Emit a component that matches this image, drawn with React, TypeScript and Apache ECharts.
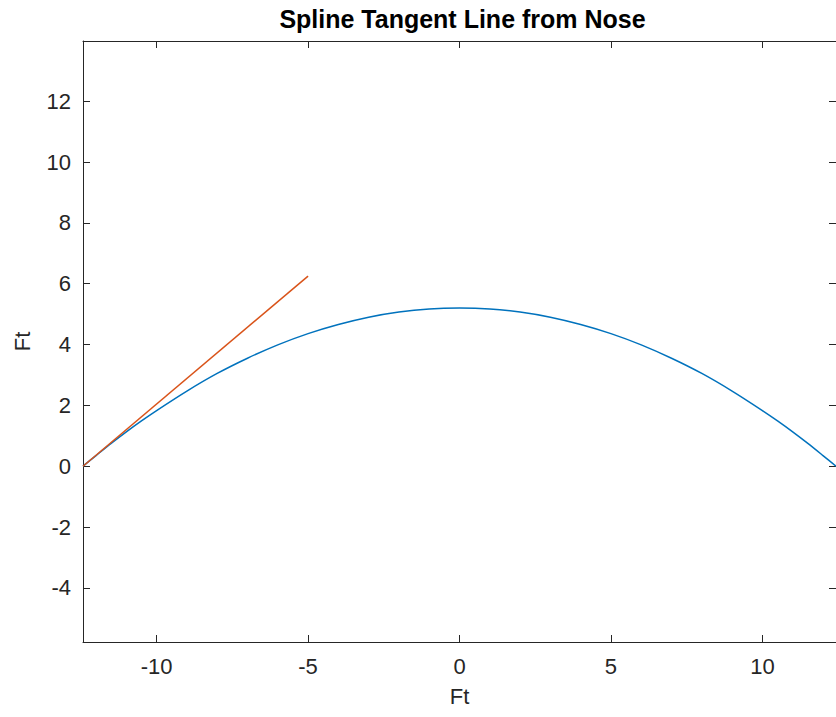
import React, { useEffect, useRef } from "react";
import * as echarts from "echarts";

const curveX = [-12.43, -12, -11.5, -11, -10.5, -10, -9, -8, -7, -6, -5, -4, -3, -2, -1, 0, 1, 2, 3, 4, 5, 6, 7, 8, 9, 10, 10.5, 11, 11.5, 12, 12.43];
const curveY = [0, 0.35, 0.75, 1.13, 1.49, 1.83, 2.47, 3.05, 3.55, 3.99, 4.36, 4.66, 4.9, 5.07, 5.17, 5.2, 5.17, 5.07, 4.9, 4.66, 4.36, 3.99, 3.55, 3.05, 2.47, 1.83, 1.49, 1.13, 0.75, 0.35, 0];
const tangentX = [-12.43, -5];
const tangentY = [0, 6.25];
const xTicks = [-10, -5, 0, 5, 10];
const yTicks = [-4, -2, 0, 2, 4, 6, 8, 10, 12];
const xRange = [-12.43, 12.43];
const yRange = [-5.78, 13.98];
const titleText = "Spline Tangent Line from Nose";
const xName = "Ft";
const yName = "Ft";

const AXIS = "#262626";
const FONT = "Liberation Sans, Arial, Helvetica, sans-serif";

export default function App() {
  const ref = useRef<HTMLDivElement>(null);
  useEffect(() => {
    if (!ref.current) return;
    const chart = echarts.init(ref.current, undefined, { renderer: "svg" });
    const axisLine = { show: true, onZero: false, lineStyle: { color: AXIS, width: 1 } };
    const tick = { show: true, inside: true, length: 7, lineStyle: { color: AXIS, width: 1 } };
    chart.setOption({
      animation: false,
      backgroundColor: "#ffffff",
      textStyle: { fontFamily: FONT },
      grid: { left: 83, top: 41, width: 759, height: 601, containLabel: false },
      graphic: [
        {
          type: "text",
          x: 462.5,
          y: 6,
          style: {
            text: titleText,
            textAlign: "center",
            textVerticalAlign: "top",
            fontFamily: FONT,
            fontSize: 25,
            fontWeight: "bold",
            fill: "#000000",
          },
        },
      ],
      xAxis: [
        {
          type: "value",
          position: "bottom",
          min: xRange[0],
          max: xRange[1],
          name: xName,
          nameLocation: "middle",
          nameGap: 43,
          nameTextStyle: { fontSize: 22, color: AXIS, fontFamily: FONT },
          axisLine,
          axisTick: { ...tick, customValues: xTicks },
          axisLabel: { customValues: xTicks, fontSize: 22, color: AXIS, margin: 13, fontFamily: FONT },
          splitLine: { show: false },
        },
        {
          type: "value",
          position: "top",
          min: xRange[0],
          max: xRange[1],
          axisLine,
          axisTick: { ...tick, customValues: xTicks },
          axisLabel: { show: false },
          splitLine: { show: false },
        },
      ],
      yAxis: [
        {
          type: "value",
          position: "left",
          min: yRange[0],
          max: yRange[1],
          name: yName,
          nameLocation: "middle",
          nameGap: 50,
          nameTextStyle: { fontSize: 22, color: AXIS, fontFamily: FONT },
          axisLine,
          axisTick: { ...tick, customValues: yTicks },
          axisLabel: { customValues: yTicks, fontSize: 22, color: AXIS, margin: 12, fontFamily: FONT },
          splitLine: { show: false },
        },
        {
          type: "value",
          position: "right",
          min: yRange[0],
          max: yRange[1],
          axisLine,
          axisTick: { ...tick, customValues: yTicks },
          axisLabel: { show: false },
          splitLine: { show: false },
        },
      ],
      series: [
        {
          type: "line",
          data: curveX.map((x, i) => [x, curveY[i]]),
          smooth: 0.3,
          showSymbol: false,
          symbol: "none",
          lineStyle: { color: "#0072BD", width: 1.5 },
          xAxisIndex: 0,
          yAxisIndex: 0,
        },
        {
          type: "line",
          data: tangentX.map((x, i) => [x, tangentY[i]]),
          showSymbol: false,
          symbol: "none",
          lineStyle: { color: "#D95319", width: 1.5 },
          xAxisIndex: 0,
          yAxisIndex: 0,
        },
      ],
    });
    return () => chart.dispose();
  }, []);
  return (
    <div
      ref={ref}
      style={{ position: "fixed", left: 0, top: 0, width: 836, height: 717, background: "#fff" }}
    />
  );
}
